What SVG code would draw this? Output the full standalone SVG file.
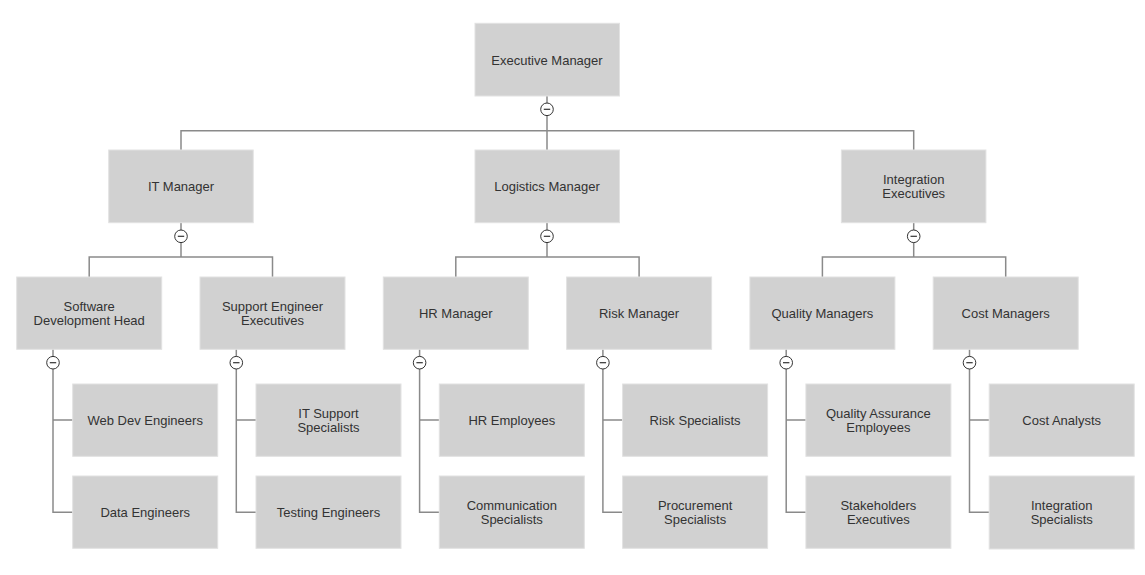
<svg xmlns="http://www.w3.org/2000/svg" width="1145" height="575" viewBox="0 0 1145 575">
<style>
.box{fill:#d1d1d1;stroke:#e2e2e2;stroke-width:1}
.lbl{font-family:"Liberation Sans",Arial,sans-serif;font-size:13px;fill:#333;text-anchor:middle}
.ln{fill:none;stroke:#8a8a8a;stroke-width:1.5}
</style>
<defs>
<g id="minus"><circle r="6.3" fill="#fff" stroke="#333" stroke-width="1"/><line x1="-3.2" y1="0" x2="3.2" y2="0" stroke="#333" stroke-width="1.2"/></g>
</defs>
<rect width="1145" height="575" fill="#fff"/>
<g id="connectors">
<path class="ln" d="M547 96V130.7M181 150V130.7H913.7V150M547 130.7V150"/>
<path class="ln" d="M181 222.7V257M89.2 277V257H272.5V277"/>
<path class="ln" d="M547 222.7V257M455.8 277V257H639.1V277"/>
<path class="ln" d="M913.7 222.7V257M822.4 277V257H1005.7V277"/>
<path class="ln" d="M53 349V512.3H72.7M53 420H72.7"/>
<path class="ln" d="M236.3 349V512.3H256M236.3 420H256"/>
<path class="ln" d="M419.6 349V512.3H439.3M419.6 420H439.3"/>
<path class="ln" d="M602.9 349V512.3H622.6M602.9 420H622.6"/>
<path class="ln" d="M786.2 349V512.3H805.9M786.2 420H805.9"/>
<path class="ln" d="M969.5 349V512.3H989.2M969.5 420H989.2"/>
<g class="btn">
<use href="#minus" x="547" y="109.3"/>
<use href="#minus" x="181" y="236.3"/>
<use href="#minus" x="547" y="236.3"/>
<use href="#minus" x="913.7" y="236.3"/>
<use href="#minus" x="53" y="362.7"/>
<use href="#minus" x="236.3" y="362.7"/>
<use href="#minus" x="419.6" y="362.7"/>
<use href="#minus" x="602.9" y="362.7"/>
<use href="#minus" x="786.2" y="362.7"/>
<use href="#minus" x="969.5" y="362.7"/>
</g>
</g>
<g id="n-exec"><rect class="box" x="475" y="23.3" width="144.5" height="72.7"/><text class="lbl" x="547" y="64.5">Executive Manager</text></g>
<g id="n-it"><rect class="box" x="108.7" y="150" width="144.5" height="72.7"/><text class="lbl" x="181" y="191">IT Manager</text></g>
<g id="n-log"><rect class="box" x="475" y="150" width="144.5" height="72.7"/><text class="lbl" x="547" y="191">Logistics Manager</text></g>
<g id="n-int"><rect class="box" x="841.4" y="150" width="144.5" height="72.7"/><text class="lbl" x="913.7" y="184">Integration</text><text class="lbl" x="913.7" y="198">Executives</text></g>
<g id="n-sw"><rect class="box" x="16.7" y="277" width="145" height="72.3"/><text class="lbl" x="89.2" y="311">Software</text><text class="lbl" x="89.2" y="325">Development Head</text></g>
<g id="n-se"><rect class="box" x="200" y="277" width="145" height="72.3"/><text class="lbl" x="272.5" y="311">Support Engineer</text><text class="lbl" x="272.5" y="325">Executives</text></g>
<g id="n-hr"><rect class="box" x="383.3" y="277" width="145" height="72.3"/><text class="lbl" x="455.8" y="318">HR Manager</text></g>
<g id="n-risk"><rect class="box" x="566.6" y="277" width="145" height="72.3"/><text class="lbl" x="639.1" y="318">Risk Manager</text></g>
<g id="n-qm"><rect class="box" x="749.9" y="277" width="145" height="72.3"/><text class="lbl" x="822.4" y="318">Quality Managers</text></g>
<g id="n-cm"><rect class="box" x="933.2" y="277" width="145" height="72.3"/><text class="lbl" x="1005.7" y="318">Cost Managers</text></g>
<g id="n-web"><rect class="box" x="72.7" y="384" width="145" height="72.3"/><text class="lbl" x="145.2" y="425">Web Dev Engineers</text></g>
<g id="n-data"><rect class="box" x="72.7" y="476" width="145" height="72.3"/><text class="lbl" x="145.2" y="517">Data Engineers</text></g>
<g id="n-its"><rect class="box" x="256" y="384" width="145" height="72.3"/><text class="lbl" x="328.5" y="418">IT Support</text><text class="lbl" x="328.5" y="432">Specialists</text></g>
<g id="n-test"><rect class="box" x="256" y="476" width="145" height="72.3"/><text class="lbl" x="328.5" y="517">Testing Engineers</text></g>
<g id="n-hre"><rect class="box" x="439.3" y="384" width="145" height="72.3"/><text class="lbl" x="511.8" y="425">HR Employees</text></g>
<g id="n-com"><rect class="box" x="439.3" y="476" width="145" height="72.3"/><text class="lbl" x="511.8" y="510">Communication</text><text class="lbl" x="511.8" y="524">Specialists</text></g>
<g id="n-rs"><rect class="box" x="622.6" y="384" width="145" height="72.3"/><text class="lbl" x="695.1" y="425">Risk Specialists</text></g>
<g id="n-proc"><rect class="box" x="622.6" y="476" width="145" height="72.3"/><text class="lbl" x="695.1" y="510">Procurement</text><text class="lbl" x="695.1" y="524">Specialists</text></g>
<g id="n-qa"><rect class="box" x="805.9" y="384" width="145" height="72.3"/><text class="lbl" x="878.4" y="418">Quality Assurance</text><text class="lbl" x="878.4" y="432">Employees</text></g>
<g id="n-sh"><rect class="box" x="805.9" y="476" width="145" height="72.3"/><text class="lbl" x="878.4" y="510">Stakeholders</text><text class="lbl" x="878.4" y="524">Executives</text></g>
<g id="n-ca"><rect class="box" x="989.2" y="384" width="145" height="72.3"/><text class="lbl" x="1061.7" y="425">Cost Analysts</text></g>
<g id="n-is"><rect class="box" x="989.2" y="476" width="145" height="73"/><text class="lbl" x="1061.7" y="510">Integration</text><text class="lbl" x="1061.7" y="524">Specialists</text></g>
</svg>
